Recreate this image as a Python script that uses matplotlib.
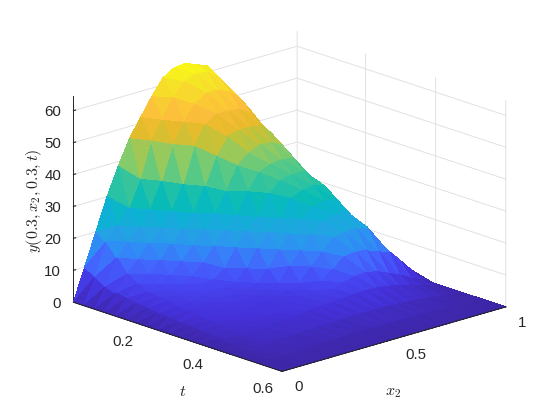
import numpy as np
import matplotlib
matplotlib.use("Agg")
import matplotlib.pyplot as plt
from matplotlib.colors import LinearSegmentedColormap

plt.rcParams["font.family"] = ["Liberation Sans", "DejaVu Sans"]
plt.rcParams["mathtext.fontset"] = "cm"

t_vals = [0.005, 0.035, 0.065, 0.094, 0.124, 0.154, 0.184, 0.213, 0.243, 0.273,
          0.303, 0.332, 0.362, 0.392, 0.422, 0.481, 0.541, 0.6]
x2_vals = [0, .05, .1, .15, .2, .25, .3, .35, .4, .45, .5, .55, .6, .65, .7, .75, .8, .85, .9, .95, 1]

# one row per t (x2 = 0 ... 1)
y_00 = [0, 10, 20, 30, 38.5, 46.2, 51.8, 57.3, 62.2, 64.3, 64.7, 63.3, 61.9, 57.4, 51.4, 43, 36, 28, 20, 10, 0]
y_01 = [0, 8, 18, 22, 26.5, 34.5, 45.5, 51, 57, 61, 62.5, 62, 59.5, 55, 50, 44, 37, 29, 20, 10, 0]
y_02 = [0, 6, 14, 18, 21.6, 26, 34, 44.5, 50.5, 55, 57.5, 57.5, 56, 53, 48, 42, 35, 27, 18, 9, 0]
y_03 = [0, 5, 10, 13.5, 17.5, 21.4, 25.5, 33, 44, 49.8, 52, 52, 51.5, 49.5, 45, 39.5, 33, 25, 17, 8.5, 0]
y_04 = [0, 4.5, 8, 10, 13.3, 17.5, 21, 25, 32.5, 41, 46, 47, 47, 46.5, 43, 37.5, 31, 24, 16, 8, 0]
y_05 = [0, 4, 6.5, 8, 9.8, 13, 17, 21, 25, 31, 38, 41, 42.5, 42.3, 40.5, 35.5, 29, 22.5, 15, 7.5, 0]
y_06 = [0, 3.5, 6, 7, 8, 9.5, 12.8, 17, 20.8, 24.5, 31, 36, 37.5, 38, 37.5, 33, 27, 21, 14, 7, 0]
y_07 = [0, 3, 5.7, 6.3, 7, 8, 8.5, 11, 16.5, 20.5, 24, 30.5, 33.5, 34.3, 34.5, 31, 25.5, 19.5, 13, 6.5, 0]
y_08 = [0, 3, 5, 5.6, 6.3, 7, 7, 7.8, 11, 16.3, 20.4, 23.8, 29, 30.5, 31, 30, 24.5, 18, 12, 6, 0]
y_09 = [0, 2.5, 4.7, 5, 5.6, 6.2, 6, 6.6, 7.6, 11, 16, 20, 23.6, 26.5, 27.3, 27, 22.5, 16.5, 11, 5.5, 0]
y_10 = [0, 2.5, 4.2, 4.7, 5, 5.5, 5.4, 5.7, 6.5, 7.6, 12, 15.8, 20, 23, 24, 24.2, 20, 15, 10, 5, 0]
y_11 = [0, 2, 3.8, 4.2, 4.6, 5, 4.8, 5, 5.6, 6.5, 7.7, 11.8, 15.5, 19, 19.6, 19.8, 19.3, 13.5, 9, 4.5, 0]
y_12 = [0, 1.8, 3.5, 3.7, 4.1, 4.5, 4.6, 4.6, 5, 5.6, 6.5, 8.5, 11, 14, 14.5, 14.2, 13, 11.6, 8, 4, 0]
y_13 = [0, 1.5, 3, 3.3, 3.6, 4, 4.4, 4.9, 5.3, 5.8, 6.2, 7, 8, 9, 9.2, 8.5, 7, 5.5, 3.5, 2, 0]
y_14 = [0, 1.2, 2.4, 2.7, 3, 3.3, 3.6, 4, 4.3, 4.6, 4.9, 5.2, 5.5, 5.6, 5.5, 5, 4.3, 3.4, 2.3, 1.2, 0]
y_15 = [0, .8, 1.5, 1.8, 2, 2.2, 2.4, 2.5, 2.6, 2.7, 2.8, 2.8, 2.8, 2.7, 2.5, 2.3, 2, 1.6, 1.1, .6, 0]
y_16 = [0, .4, .8, .9, 1, 1.1, 1.2, 1.2, 1.3, 1.3, 1.3, 1.3, 1.3, 1.3, 1.2, 1.1, 1, .8, .5, .3, 0]
y_17 = [0] * 21

parula_colors = ["#3e26a8", "#4431d9", "#4748f5", "#4367fd", "#2f8ef5", "#23a3e3",
                 "#0db1d4", "#07bbb8", "#2ec3a0", "#55c987", "#8bcb66", "#bfc33a",
                 "#e8bb2b", "#fdbe3d", "#f9d22f", "#f5e626", "#f9fb15"]

zmax = 64.7
tmin, tmax = t_vals[0], t_vals[-1]

y_grid = np.array([y_00, y_01, y_02, y_03, y_04, y_05, y_06, y_07, y_08, y_09,
                   y_10, y_11, y_12, y_13, y_14, y_15, y_16, y_17])
T, X2 = np.meshgrid(t_vals, x2_vals, indexing="ij")
parula = LinearSegmentedColormap.from_list("parula", parula_colors)

# split each grid cell along the diagonal that lies level on screen
nt, nx = T.shape
idx = np.arange(nt * nx).reshape(nt, nx)
tris = np.vstack([
    np.c_[idx[:-1, :-1].ravel(), idx[1:, :-1].ravel(), idx[1:, 1:].ravel()],
    np.c_[idx[:-1, :-1].ravel(), idx[:-1, 1:].ravel(), idx[1:, 1:].ravel()],
])

fig = plt.figure(figsize=(5.6, 4.2), dpi=100)
ax = fig.add_axes([0.132, 0.0073, 0.75, 1.0], projection="3d", proj_type="ortho")
ax.view_init(elev=18, azim=-43)
ax.set_box_aspect((1, 1, 0.71), zoom=1.1186)
ax.patch.set_alpha(0)
ax.computed_zorder = False

surf = ax.plot_trisurf(T.ravel(), X2.ravel(), y_grid.ravel(), triangles=tris, cmap=parula,
                       vmin=0, vmax=zmax, linewidth=0, antialiased=False, shade=False, zorder=2)
surf.set_clip_on(False)

# axis lines in front of the surface
ax.plot([tmin, tmax], [0, 0], [0, 0], color="#262626", lw=0.7, zorder=3, clip_on=False)
ax.plot([tmax, tmax], [0, 1], [0, 0], color="#262626", lw=0.7, zorder=3, clip_on=False)

ax.set_xlim(tmin, tmax, view_margin=0)
ax.set_ylim(0, 1, view_margin=0)
ax.set_zlim(0, zmax, view_margin=0)
ax.set_xticks([0.2, 0.4, 0.6], ["0.2", "0.4", "0.6"])
ax.set_yticks([0, 0.5, 1], ["0", "0.5", "1"])
ax.set_zticks([0, 10, 20, 30, 40, 50, 60])
ax.zaxis.set_ticks_position("lower")

for axis, pad, ha, va in ((ax.xaxis, -2, "right", "top"), (ax.yaxis, 1, "left", "center"),
                          (ax.zaxis, -3.5, "right", "center_baseline")):
    axis.set_pane_color((1, 1, 1, 1))
    axis.pane.set_edgecolor((1, 1, 1, 0))
    axis.line.set_color("#262626")
    axis.line.set_linewidth(0.7)
    axis._axinfo["grid"].update(color="#e1e1e1", linewidth=0.7)
    axis._axinfo["tick"].update(inward_factor=0.0, outward_factor=0.06)
    axis.set_tick_params(labelsize=10.8, labelcolor="#262626", color="#262626", width=0.6, pad=pad)
    for tick in axis.get_major_ticks():
        tick.label1.set_ha(ha)
        tick.label1.set_va(va)
ax.zaxis._axinfo["tick"].update(inward_factor=0.0, outward_factor=0.12)

fig.text(183 / 560, 1 - 391 / 420, r"$t$", fontsize=11.5, color="#262626", ha="center", va="center")
fig.text(393 / 560, 1 - 393 / 420, r"$x_2$", fontsize=11.5, color="#262626", ha="center", va="center")
fig.text(34 / 560, 1 - 201 / 420, r"$y(0.3,x_2,0.3,t)$", fontsize=11.5, color="#262626",
         rotation=90, ha="center", va="center")

fig.savefig("out.png", dpi=100)
